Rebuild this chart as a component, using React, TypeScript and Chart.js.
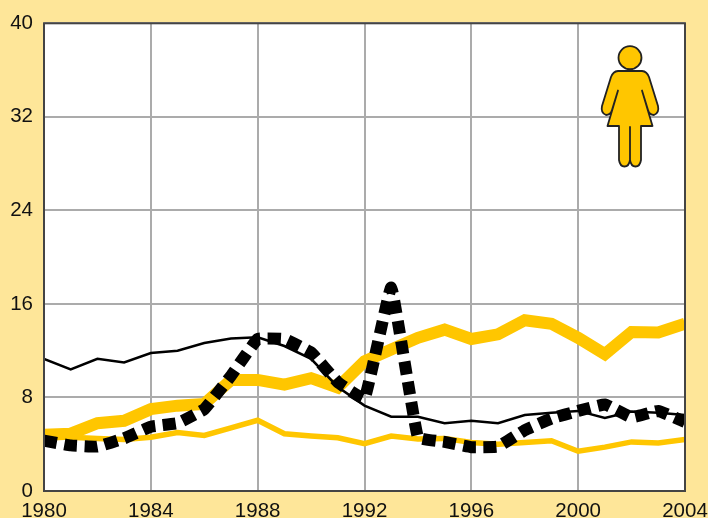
import React, { useEffect, useRef } from "react";
import { Chart, registerables } from "chart.js";

Chart.register(...registerables);

const years = [1980,1981,1982,1983,1984,1985,1986,1987,1988,1989,1990,1991,1992,1993,1994,1995,1996,1997,1998,1999,2000,2001,2002,2003,2004];
const thinBlack = [11.3,10.4,11.3,11.0,11.8,12.0,12.65,13.05,13.15,12.4,11.3,8.9,7.3,6.35,6.35,5.8,6.0,5.8,6.5,6.7,6.85,6.25,6.8,6.7,6.5];
const thickGold = [4.8,4.9,5.8,6.0,7.0,7.3,7.45,9.5,9.5,9.1,9.65,8.85,11.1,12.1,13.1,13.8,13.0,13.4,14.6,14.3,13.1,11.7,13.6,13.55,14.3];
const thinGold = [4.6,4.6,4.5,4.4,4.6,5.0,4.75,5.4,6.05,4.9,4.7,4.55,4.05,4.7,4.45,4.5,4.15,4.0,4.15,4.3,3.4,3.75,4.2,4.1,4.4];
const dashedBlack = [4.3,3.9,3.8,4.5,5.5,5.8,7.0,9.85,13.0,13.0,11.85,9.3,7.9,17.4,4.6,4.2,3.75,3.8,5.2,6.2,6.85,7.4,6.3,6.85,5.9];
const yTicks = [0,8,16,24,32,40];

const pts = (v: number[]) => v.map((y, i) => ({ x: years[i], y }));
const GOLD = "#FFC600";
const FONT = "'Liberation Sans', Arial, sans-serif";

const framePlugin = {
  id: "frame",
  beforeDraw(chart: any) {
    const { ctx, chartArea: a } = chart;
    ctx.save();
    ctx.fillStyle = "#FFFFFF";
    ctx.fillRect(a.left, a.top, a.right - a.left, a.bottom - a.top);
    ctx.restore();
  },
  afterDatasetsDraw(chart: any) {
    const { ctx, chartArea: a } = chart;
    ctx.save();
    ctx.strokeStyle = "#444";
    ctx.lineWidth = 2;
    ctx.strokeRect(a.left, a.top, a.right - a.left, a.bottom - a.top);
    // woman pictogram
    ctx.translate(630, 46);
    ctx.fillStyle = GOLD;
    ctx.strokeStyle = "#222";
    ctx.lineWidth = 1.8;
    ctx.lineJoin = "round";
    ctx.beginPath();
    ctx.arc(0, 11.7, 11.5, 0, Math.PI * 2);
    ctx.fill();
    ctx.stroke();
    ctx.beginPath();
    ctx.moveTo(-12, 25);
    ctx.lineTo(12, 25);
    ctx.quadraticCurveTo(17, 25.5, 19, 31);
    ctx.lineTo(28, 60);
    ctx.quadraticCurveTo(29.5, 67, 24, 69);
    ctx.quadraticCurveTo(19.5, 69, 18, 64);
    ctx.lineTo(12, 44.5);
    ctx.lineTo(22.5, 80);
    ctx.lineTo(11, 80);
    ctx.lineTo(11, 114);
    ctx.quadraticCurveTo(10, 120.5, 5.5, 120.5);
    ctx.quadraticCurveTo(1, 120.5, 0, 114);
    ctx.lineTo(0, 81);
    ctx.lineTo(0, 114);
    ctx.quadraticCurveTo(-1, 120.5, -5.5, 120.5);
    ctx.quadraticCurveTo(-10, 120.5, -11, 114);
    ctx.lineTo(-11, 80);
    ctx.lineTo(-22.5, 80);
    ctx.lineTo(-12, 44.5);
    ctx.lineTo(-18, 64);
    ctx.quadraticCurveTo(-19.5, 69, -24, 69);
    ctx.quadraticCurveTo(-29.5, 67, -28, 60);
    ctx.lineTo(-19, 31);
    ctx.quadraticCurveTo(-17, 25.5, -12, 25);
    ctx.closePath();
    ctx.fill();
    ctx.stroke();
    ctx.restore();
  },
};

export default function App() {
  const ref = useRef<HTMLCanvasElement>(null);
  useEffect(() => {
    document.body.style.margin = "0";
    document.body.style.background = "#FEE699";
    const chart = new Chart(ref.current!, {
      type: "line",
      data: {
        datasets: [
          { label: "Dashed black", data: pts(dashedBlack), borderColor: "#000", borderWidth: 12, pointRadius: 0, borderDash: [13, 7.5], tension: 0.08, borderJoinStyle: "miter" },
          { label: "Thin black", data: pts(thinBlack), borderColor: "#000", borderWidth: 2.5, pointRadius: 0 },
          { label: "Thick gold", data: pts(thickGold), borderColor: GOLD, borderWidth: 12, pointRadius: 0, borderJoinStyle: "miter" },
          { label: "Thin gold", data: pts(thinGold), borderColor: GOLD, borderWidth: 5.5, pointRadius: 0, borderJoinStyle: "miter" },
        ],
      },
      options: {
        responsive: false,
        animation: false,
        layout: { padding: { top: 21, right: 23, left: 0, bottom: 0 } },
        plugins: { legend: { display: false }, tooltip: { enabled: false } },
        scales: {
          x: {
            type: "linear",
            min: years[0],
            max: years[years.length - 1],
            afterBuildTicks: (s: any) => { s.ticks = years.filter((y) => (y - years[0]) % 4 === 0).map((value) => ({ value })); },
            afterFit: (s: any) => { s.height = 27; },
            grid: { color: "#ABABAB", lineWidth: 2, drawTicks: true, tickLength: 8, tickColor: "rgba(0,0,0,0)" },
            border: { display: false },
            ticks: { padding: 0, maxRotation: 0, autoSkip: false, color: "#111", font: { family: FONT, size: 20.5 }, callback: (v: any) => String(v) },
          },
          y: {
            min: 0,
            max: 40,
            afterBuildTicks: (s: any) => { s.ticks = yTicks.map((value) => ({ value })); },
            afterFit: (s: any) => { s.width = 44; },
            grid: { color: "#ABABAB", lineWidth: 2, drawTicks: false },
            border: { display: false },
            ticks: { padding: 11, color: "#111", font: { family: FONT, size: 20.5 } },
          },
        },
      },
      plugins: [framePlugin],
    } as any);
    return () => chart.destroy();
  }, []);
  return <canvas ref={ref} width={708} height={518} style={{ display: "block", background: "#FEE699" }} />;
}
